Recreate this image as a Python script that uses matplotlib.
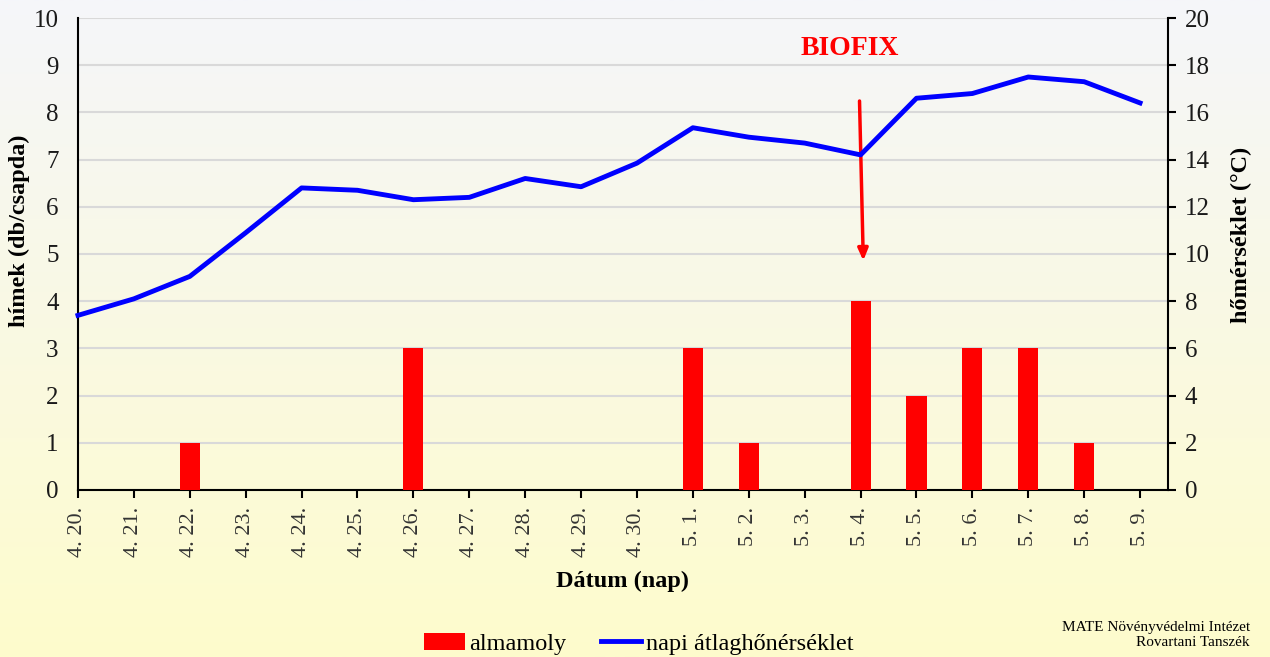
import numpy as np
import matplotlib.pyplot as plt
from matplotlib.patches import Patch
from matplotlib.lines import Line2D

plt.rcParams['font.family'] = ['Liberation Serif', 'DejaVu Serif']

# data
dates = ["4. 20.", "4. 21.", "4. 22.", "4. 23.", "4. 24.", "4. 25.", "4. 26.",
         "4. 27.", "4. 28.", "4. 29.", "4. 30.", "5. 1.", "5. 2.", "5. 3.",
         "5. 4.", "5. 5.", "5. 6.", "5. 7.", "5. 8.", "5. 9."]
almamoly = [0, 0, 1, 0, 0, 0, 3, 0, 0, 0, 0, 3, 1, 0, 4, 2, 3, 3, 1, 0]
temperature = [7.4, 8.1, 9.05, 10.9, 12.8, 12.7, 12.3, 12.4, 13.2, 12.85,
               13.85, 15.35, 14.95, 14.7, 14.2, 16.6, 16.8, 17.5, 17.3, 16.4]
biofix_date = "5. 4."

fig = plt.figure(figsize=(12.7, 6.57), dpi=100)

# gradient background (pale blue-white at top, pale yellow at bottom)
bg = fig.add_axes([0, 0, 1, 1], zorder=-10)
top_c = np.array([245, 246, 250]) / 255
bot_c = np.array([254, 252, 204]) / 255
t = np.linspace(0, 1, 256)[:, None]
grad = top_c * (1 - t) + bot_c * t
bg.imshow(grad[:, None, :], aspect='auto', extent=[0, 1, 0, 1])
bg.axis('off')

ax = fig.add_axes([0.0614, 0.2542, 0.8583, 0.7184])
ax.set_facecolor('none')
x = np.arange(len(dates))

ax.bar(x, almamoly, width=0.36, color='#ff0000', zorder=3)
ax.set_ylim(0, 10)
ax.set_xlim(0, len(dates) - 0.5)
ax.set_yticks(range(0, 11))
ax.grid(axis='y', color='#d9d9d9', lw=1.5, zorder=0)
ax.set_xticks(x)
ax.set_xticklabels(dates, rotation=90, fontsize=16, color='#333333')
ax.tick_params(axis='y', labelsize=18, length=0, pad=14, labelcolor='#1a1a1a')
ax.tick_params(axis='x', length=6, width=1.5, direction='out', pad=6)
ax.set_ylabel("hímek (db/csapda)", fontsize=17.5, fontweight='bold')
ax.yaxis.set_label_coords(-0.044, 0.55)
ax.set_xlabel("Dátum (nap)", fontsize=17.5, fontweight='bold', labelpad=10)
for s in ['top', 'right']:
    ax.spines[s].set_visible(False)
for s in ['left', 'bottom']:
    ax.spines[s].set_linewidth(1.5)

ax2 = ax.twinx()
ax2.plot(x, temperature, color='#0000ff', lw=3.5, zorder=4, clip_on=False)
ax2.set_ylim(0, 20)
ax2.set_yticks(range(0, 21, 2))
ax2.tick_params(axis='y', labelsize=18, length=6, width=1.5, pad=6,
                labelcolor='#1a1a1a')
ax2.set_ylabel("hőmérséklet (°C)", fontsize=17.5, fontweight='bold')
ax2.yaxis.set_label_coords(1.058, 0.54)
for s in ['top', 'left', 'bottom']:
    ax2.spines[s].set_visible(False)
ax2.spines['right'].set_linewidth(1.5)

bi = dates.index(biofix_date)
ax.annotate("", xy=(bi + 0.05, 4.8), xytext=(bi - 0.02, 8.3),
            arrowprops=dict(arrowstyle='-|>,head_width=0.3,head_length=0.7',
                            color='#ff0000', lw=2.5), zorder=6)
ax.text(bi - 0.2, 9.35, "BIOFIX", color='#ff0000', fontsize=20,
        fontweight='bold', ha='center', va='center')

handles = [Patch(facecolor='#ff0000', label='almamoly'),
           Line2D([0], [0], color='#0000ff', lw=3.5, label='napi átlaghőnérséklet')]
fig.legend(handles=handles, loc='lower center', bbox_to_anchor=(0.503, -0.03),
           ncol=2, frameon=False, fontsize=17.5, handlelength=1.65,
           columnspacing=1.4, handletextpad=0.2)

fig.text(0.984, 0.012, "MATE Növényvédelmi Intézet\nRovartani Tanszék",
         ha='right', va='bottom', fontsize=11, linespacing=1.25,
         multialignment='right')

fig.savefig("out.png", dpi=100)
